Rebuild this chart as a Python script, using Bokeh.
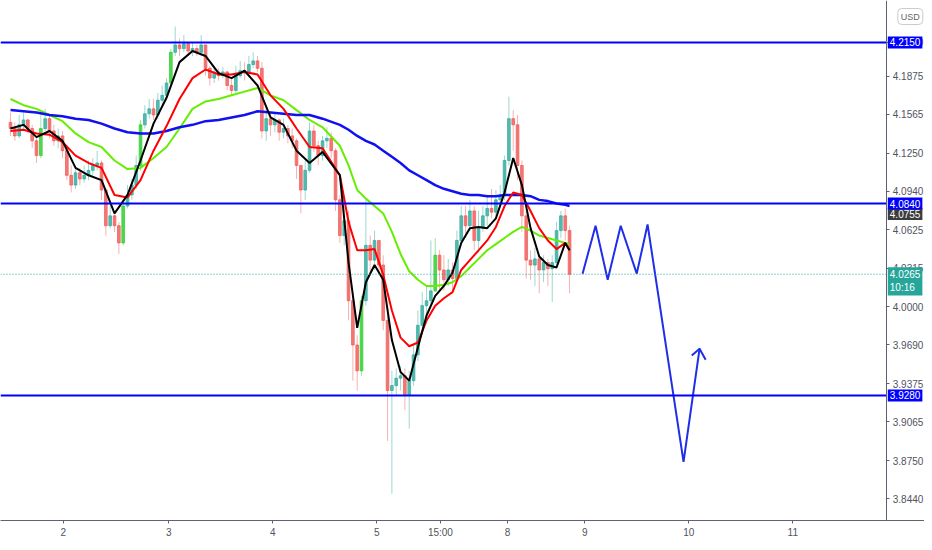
from bokeh.plotting import figure
from bokeh.models import ColumnDataSource, Range1d, FixedTicker, Label, NumeralTickFormatter
from bokeh.embed import file_html
from bokeh.resources import INLINE

# hourly bars (price)
first_open = 4.150
closes = [4.145, 4.139, 4.148, 4.152, 4.145, 4.135, 4.123, 4.145, 4.153, 4.143,
          4.135, 4.139, 4.127, 4.107, 4.099, 4.109, 4.104, 4.107, 4.111, 4.115,
          4.117, 4.095, 4.066, 4.074, 4.066, 4.052, 4.082, 4.091, 4.099, 4.115,
          4.148, 4.157, 4.161, 4.156, 4.168, 4.172, 4.182, 4.207, 4.213, 4.210,
          4.214, 4.208, 4.210, 4.207, 4.213, 4.194, 4.186, 4.191, 4.188, 4.191,
          4.180, 4.176, 4.188, 4.192, 4.191, 4.197, 4.200, 4.194, 4.143, 4.153,
          4.148, 4.152, 4.142, 4.145, 4.139, 4.135, 4.115, 4.095, 4.111, 4.143,
          4.131, 4.123, 4.135, 4.137, 4.127, 4.087, 4.058, 4.070, 4.005, 3.969,
          3.948, 4.005, 4.050, 4.038, 4.054, 4.034, 3.989, 3.932, 3.936, 3.942,
          3.944, 3.928, 3.940, 3.961, 3.985, 4.001, 4.005, 4.013, 4.042, 4.030,
          4.022, 4.030, 4.023, 4.054, 4.074, 4.066, 4.078, 4.054, 4.064, 4.074,
          4.080, 4.077, 4.087, 4.091, 4.119, 4.153, 4.148, 4.115, 4.074, 4.038,
          4.034, 4.039, 4.030, 4.036, 4.031, 4.036, 4.062, 4.074, 4.062, 4.0265]
highs = [4.158, 4.150, 4.156, 4.158, 4.153, 4.148, 4.139, 4.160, 4.161, 4.156,
         4.148, 4.145, 4.143, 4.129, 4.115, 4.115, 4.113, 4.115, 4.119, 4.121,
         4.127, 4.119, 4.096, 4.082, 4.078, 4.069, 4.087, 4.099, 4.104, 4.123,
         4.152, 4.164, 4.169, 4.169, 4.174, 4.180, 4.186, 4.210, 4.228, 4.218,
         4.221, 4.215, 4.215, 4.213, 4.221, 4.213, 4.196, 4.196, 4.194, 4.195,
         4.192, 4.186, 4.196, 4.200, 4.199, 4.204, 4.207, 4.204, 4.199, 4.160,
         4.158, 4.158, 4.153, 4.153, 4.148, 4.145, 4.137, 4.115, 4.119, 4.150,
         4.148, 4.135, 4.139, 4.146, 4.142, 4.129, 4.091, 4.082, 4.078, 4.009,
         3.977, 4.009, 4.087, 4.058, 4.062, 4.054, 4.042, 3.993, 3.948, 3.950,
         3.952, 3.950, 3.948, 3.969, 3.997, 4.012, 4.017, 4.054, 4.056, 4.046,
         4.042, 4.039, 4.036, 4.062, 4.082, 4.082, 4.087, 4.082, 4.078, 4.082,
         4.091, 4.096, 4.095, 4.099, 4.123, 4.171, 4.160, 4.156, 4.119, 4.078,
         4.046, 4.048, 4.042, 4.042, 4.039, 4.042, 4.069, 4.078, 4.080, 4.066]
lows = [4.139, 4.135, 4.137, 4.143, 4.141, 4.129, 4.117, 4.121, 4.143, 4.137,
        4.131, 4.129, 4.121, 4.103, 4.093, 4.096, 4.099, 4.101, 4.103, 4.107,
        4.111, 4.087, 4.058, 4.064, 4.061, 4.043, 4.050, 4.080, 4.087, 4.096,
        4.111, 4.145, 4.153, 4.152, 4.153, 4.164, 4.168, 4.180, 4.204, 4.204,
        4.207, 4.204, 4.204, 4.204, 4.204, 4.188, 4.180, 4.182, 4.184, 4.186,
        4.176, 4.172, 4.174, 4.186, 4.184, 4.188, 4.194, 4.191, 4.137, 4.135,
        4.139, 4.142, 4.135, 4.137, 4.133, 4.129, 4.104, 4.076, 4.087, 4.109,
        4.126, 4.115, 4.119, 4.129, 4.121, 4.078, 4.052, 4.050, 3.989, 3.940,
        3.932, 3.944, 4.001, 4.026, 4.030, 4.026, 3.981, 3.891, 3.848, 3.928,
        3.932, 3.916, 3.901, 3.936, 3.956, 3.981, 3.989, 4.001, 4.012, 4.013,
        4.013, 4.017, 4.013, 4.022, 4.050, 4.056, 4.062, 4.046, 4.044, 4.061,
        4.066, 4.072, 4.074, 4.082, 4.087, 4.115, 4.127, 4.103, 4.061, 4.023,
        4.022, 4.017, 4.011, 4.020, 4.017, 4.004, 4.033, 4.056, 4.054, 4.011]
bright_bars = [7, 26, 30, 37, 81, 98]

# moving averages sampled at these bar numbers
ma_idx = list(range(0, 73, 3)) + list(range(76, 129, 2)) + [129]
ma_black = [4.145, 4.148, 4.138, 4.143, 4.135, 4.113, 4.107, 4.103, 4.076, 4.091,
            4.119, 4.149, 4.170, 4.199, 4.208, 4.204, 4.190, 4.186, 4.192, 4.180,
            4.154, 4.148, 4.127, 4.117, 4.126,
            4.107, 4.036, 3.983, 4.020, 4.034, 4.022, 3.973, 3.947, 3.940, 3.967,
            3.993, 4.009, 4.017, 4.028, 4.052, 4.064, 4.065, 4.064, 4.072, 4.093,
            4.121, 4.099, 4.064, 4.041, 4.034, 4.032, 4.052, 4.046]
ma_red = [4.143, 4.144, 4.141, 4.140, 4.134, 4.123, 4.117, 4.113, 4.091, 4.089,
          4.103, 4.127, 4.147, 4.169, 4.186, 4.193, 4.189, 4.189, 4.191, 4.189,
          4.172, 4.161, 4.145, 4.130, 4.129,
          4.107, 4.069, 4.046, 4.046, 4.047, 4.026, 3.997, 3.975, 3.968, 3.971,
          3.989, 4.001, 4.007, 4.012, 4.030, 4.038, 4.046, 4.054, 4.065, 4.082,
          4.093, 4.091, 4.078, 4.064, 4.054, 4.047, 4.052, 4.046]
ma_green = [4.169, 4.164, 4.161, 4.156, 4.151, 4.141, 4.134, 4.130, 4.119, 4.112,
            4.113, 4.121, 4.130, 4.145, 4.161, 4.167, 4.169, 4.172, 4.175, 4.178,
            4.172, 4.168, 4.160, 4.152, 4.146,
            4.131, 4.115, 4.095, 4.088, 4.082, 4.076, 4.061, 4.043, 4.029, 4.022,
            4.017, 4.017, 4.018, 4.020, 4.025, 4.032, 4.039, 4.046, 4.051, 4.056,
            4.061, 4.065, 4.062, 4.058, 4.056, 4.054, 4.052, 4.051]
ma_blue = [4.160, 4.159, 4.158, 4.156, 4.155, 4.153, 4.152, 4.149, 4.145, 4.142,
           4.141, 4.141, 4.143, 4.146, 4.148, 4.151, 4.152, 4.154, 4.156, 4.159,
           4.158, 4.157, 4.156, 4.156, 4.153,
           4.148, 4.144, 4.139, 4.135, 4.132, 4.127, 4.122, 4.117, 4.111, 4.107,
           4.103, 4.099, 4.096, 4.094, 4.092, 4.091, 4.091, 4.090, 4.090, 4.091,
           4.091, 4.091, 4.090, 4.087, 4.086, 4.084, 4.083, 4.082]

# horizontal levels and price tags
levels = [4.2150, 4.0840, 3.9280]
last_price = 4.0265
last_time = "10:16"
ma_tag = 4.0755

# hand-drawn projection
proj_x = [132.0, 135.0, 137.8, 140.8, 144.5, 147.0, 155.3, 159.0]
proj_y = [4.027, 4.066, 4.022, 4.066, 4.027, 4.067, 3.874, 3.966]
head_x = [157.2, 159.0, 160.4]
head_y = [3.9605, 3.966, 3.957]

price_ticks = [4.2150, 4.1875, 4.1565, 4.1250, 4.0940, 4.0625, 4.0315,
               4.0000, 3.9690, 3.9375, 3.9065, 3.8750, 3.8440]
time_ticks = [12.2, 36.5, 60.5, 84.5, 99.2, 114.7, 132.5, 156.5, 180.5]
time_labels = ["2", "3", "4", "5", "15:00", "8", "9", "10", "11"]

FONT = "Liberation Sans"
UP, DOWN, BRIGHT = "#26a69a", "#ef5350", "#22cc22"
X0, X1 = -2.31, 210.9      # visible bar range
AXIS_X = 202.2             # where the price scale sits
Y0, Y1 = 3.8263, 4.2491

opens = [first_open] + closes[:-1]
xs = list(range(len(closes)))
colors = []
for i, (o, c) in enumerate(zip(opens, closes)):
    if i in bright_bars:
        colors.append(BRIGHT)
    elif c >= o:
        colors.append(UP)
    else:
        colors.append(DOWN)

src = ColumnDataSource(dict(
    x=xs, o=opens, c=closes,
    hi=[max(h, o, c) for h, o, c in zip(highs, opens, closes)],
    lo=[min(l, o, c) for l, o, c in zip(lows, opens, closes)],
    top=[max(o, c) for o, c in zip(opens, closes)],
    bot=[min(o, c) for o, c in zip(opens, closes)],
    color=colors,
))

p = figure(frame_width=924, frame_height=520, output_backend="svg",
           toolbar_location=None, y_axis_location="right",
           x_range=Range1d(X0, X1), y_range=Range1d(Y0, Y1),
           min_border_left=0, min_border_top=0, min_border_bottom=0, min_border_right=0)
p.outline_line_color = None
p.grid.visible = False
p.background_fill_color = "white"

p.segment("x", "hi", "x", "lo", source=src, line_color="color", line_alpha=0.45, line_width=1)
p.vbar("x", 0.62, "top", "bot", source=src, fill_color="color", line_color="color",
       fill_alpha=0.7, line_alpha=0.7)

p.line(ma_idx, ma_green, line_color="#66ee00", line_width=2)
p.line(ma_idx, ma_blue, line_color="#1010f0", line_width=2.5)
p.line(ma_idx, ma_red, line_color="#ff0000", line_width=2)
p.line(ma_idx, ma_black, line_color="#000000", line_width=2)

p.line(proj_x, proj_y, line_color="#1f2ee8", line_width=2)
p.line(head_x, head_y, line_color="#1f2ee8", line_width=2)

n = len(levels)
p.segment([X0] * n, levels, [AXIS_X] * n, levels, line_color="#0000ff", line_width=2)
p.segment([X0], [last_price], [AXIS_X], [last_price], line_color="#26a69a",
          line_width=1, line_dash="1 2")

ax = p.yaxis[0]
ax.fixed_location = AXIS_X
ax.ticker = FixedTicker(ticks=price_ticks)
ax.formatter = NumeralTickFormatter(format="0.0000")
bx = p.xaxis[0]
bx.ticker = FixedTicker(ticks=time_ticks)
bx.major_label_overrides = dict(zip(time_ticks, time_labels))
for a in (ax, bx):
    a.axis_line_color = "#5f6370"
    a.major_tick_line_color = "#5f6370"
    a.major_tick_out = 3
    a.major_tick_in = 0
    a.minor_tick_line_color = None
    a.major_label_text_color = "#50535e"
    a.major_label_text_font = FONT
    a.major_label_text_font_size = "10px"
    a.major_label_standoff = 3

def tag(y, text, bg, **kw):
    p.add_layout(Label(x=AXIS_X, y=y, x_offset=1, text=text,
                       text_baseline=kw.pop("baseline", "middle"), text_align="left",
                       text_color="white", text_font=FONT, text_font_size="10px",
                       background_fill_color=bg, background_fill_alpha=1.0,
                       padding=2, **kw))

tag(ma_tag, "4.0755", "#3c3c3c")
for lv in levels:
    tag(lv, "%.4f" % lv, "#0000ff")
tag(last_price, "%.4f\n%s" % (last_price, last_time), "#26a69a", baseline="top", y_offset=7)
p.add_layout(Label(x=AXIS_X, y=Y1, x_offset=11, y_offset=-16, text="USD",
                   text_baseline="middle", text_align="left", text_color="#666666",
                   text_font=FONT, text_font_size="9px", border_line_color="#cccccc",
                   border_radius=4, padding=3, background_fill_color="white"))

open("out.html", "w").write(file_html(p, INLINE))
